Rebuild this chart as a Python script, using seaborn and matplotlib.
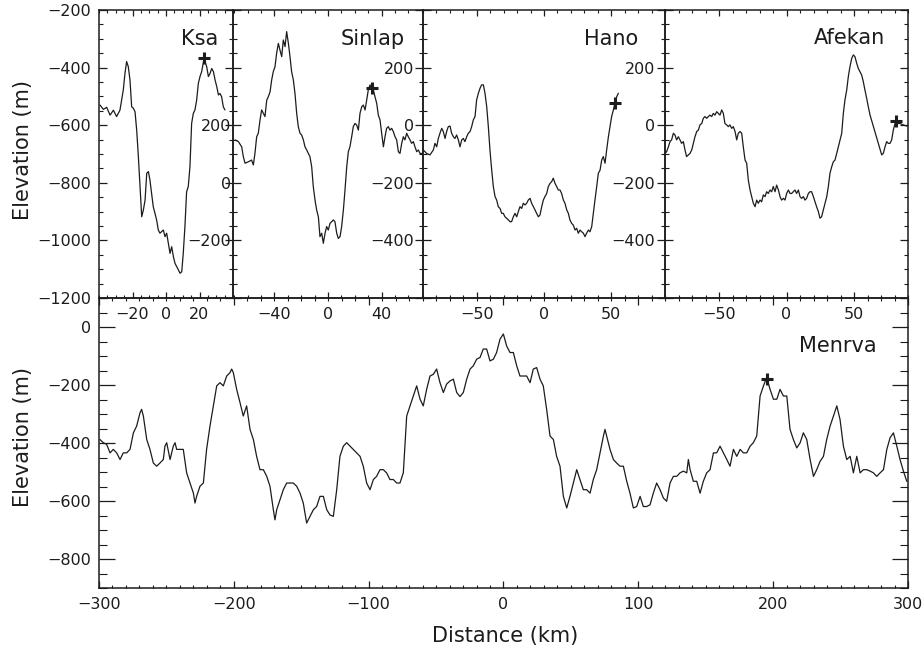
import matplotlib
matplotlib.use("Agg")
import matplotlib.pyplot as plt
from matplotlib.ticker import MultipleLocator
import pandas as pd
import seaborn as sns

# Topographic profiles across Titan craters: distance (km) vs elevation (m)

ksa_km = [-39.4, -37.4, -35.4, -33.4, -31.4, -29.5, -27.5, -25.5, -24.5, -23.5,
          -22.5, -21.5, -20.5, -19.5, -18.5, -17.5, -16.5, -15.5, -14.5, -13.5,
          -12.5, -11.5, -10.5, -9.6, -8.6, -7.6, -6.6, -5.6, -4.6, -3.6,
          -1.6, -0.6, 0.4, 1.4, 2.4, 3.4, 4.4, 5.4, 6.4, 8.4,
          9.4, 10.3, 11.3, 12.3, 13.3, 14.3, 15.3, 16.3, 17.3, 18.3,
          19.3, 20.3, 21.3, 22.7, 24.3, 25.3, 26.3, 27.3, 28.3, 29.3,
          30.3, 31.3, 32.2, 33.2, 34.2, 35.2]
ksa_m = [-530, -545, -538, -565, -548, -570, -548, -478, -420, -379,
         -397, -443, -536, -541, -553, -617, -709, -813, -918, -894,
         -860, -767, -761, -790, -837, -883, -906, -929, -964, -975,
         -964, -987, -975, -1010, -1045, -1022, -1056, -1080, -1091, -1114,
         -1109, -1045, -952, -831, -813, -744, -594, -559, -547, -513,
         -455, -431, -414, -368, -397, -431, -420, -403, -414, -443,
         -466, -495, -490, -501, -536, -547]

sinlap_km = [-69.5, -67.0, -64.5, -63.3, -62.0, -59.5, -57.1, -55.8, -54.6, -53.3,
             -52.1, -50.8, -49.6, -48.3, -47.1, -45.8, -44.6, -43.3, -42.1, -40.9,
             -39.6, -38.4, -37.1, -35.9, -34.6, -33.4, -32.1, -30.9, -29.6, -28.4,
             -27.2, -25.9, -24.7, -23.4, -22.2, -20.9, -19.7, -18.4, -17.2, -15.9,
             -14.7, -13.5, -12.2, -11.0, -9.7, -8.5, -7.2, -6.0, -4.7, -3.5,
             -2.2, -1.0, 0.2, 1.5, 4.0, 5.2, 6.5, 7.7, 9.0, 10.2,
             11.5, 12.7, 14.0, 15.2, 16.4, 17.7, 18.9, 20.2, 21.4, 22.7,
             23.9, 25.2, 26.4, 27.7, 28.9, 30.1, 31.4, 32.6, 33.9, 35.1,
             36.4, 37.6, 38.9, 40.1, 41.4, 42.6, 43.8, 45.1, 46.3, 47.6,
             48.8, 50.1, 51.3, 52.6, 53.8, 55.1, 56.3, 57.5, 58.8, 60.0,
             61.3, 62.5, 63.8, 65.0, 66.3, 67.5, 68.8, 70.0]
sinlap_m = [149, 143, 125, 91, 68, 73, 79, 62, 102, 160,
            172, 218, 253, 241, 230, 287, 299, 316, 357, 386,
            403, 450, 484, 461, 438, 496, 473, 525, 484, 438,
            386, 357, 311, 241, 195, 172, 166, 149, 125, 114,
            102, 91, 56, -13, -60, -94, -118, -187, -175, -210,
            -175, -152, -164, -141, -129, -135, -175, -193, -187, -152,
            -94, -25, 56, 108, 125, 160, 195, 206, 201, 183,
            241, 264, 270, 253, 287, 322, 340, 328, 322, 299,
            276, 235, 218, 172, 125, 160, 189, 195, 183, 189,
            178, 160, 149, 108, 102, 137, 160, 149, 172, 160,
            149, 137, 143, 125, 108, 114, 102, 102]

hano_km = [-89.8, -87.3, -84.8, -82.3, -81.1, -79.8, -78.6, -77.4, -76.1, -74.9,
           -73.6, -72.4, -71.2, -69.9, -68.7, -67.4, -66.2, -65.0, -63.7, -62.5,
           -61.2, -60.0, -58.8, -57.5, -56.3, -55.0, -53.8, -52.6, -51.3, -50.1,
           -48.8, -47.6, -46.4, -45.1, -43.9, -42.6, -41.4, -40.2, -38.9, -37.7,
           -36.4, -35.2, -34.0, -32.7, -31.5, -30.3, -29.0, -27.8, -26.5, -25.3,
           -24.1, -22.8, -21.6, -20.3, -19.1, -17.9, -16.6, -15.4, -14.1, -12.9,
           -11.7, -10.4, -9.2, -7.9, -6.7, -5.5, -4.2, -3.0, -1.7, -0.5,
           0.7, 2.0, 3.2, 4.5, 5.7, 6.9, 8.2, 9.4, 10.7, 11.9,
           13.1, 14.4, 15.6, 16.9, 18.1, 19.3, 20.6, 21.8, 23.1, 24.3,
           25.5, 26.8, 28.0, 29.3, 30.5, 31.7, 33.0, 34.2, 35.5, 36.7,
           37.9, 39.2, 40.4, 41.7, 42.9, 44.1, 45.4, 46.6, 47.9, 49.1,
           50.3, 51.6, 52.8, 54.1, 55.3]
hano_m = [-86, -98, -103, -86, -63, -75, -46, -28, -11, -22,
          -46, -22, -5, -3, -28, -40, -46, -34, -51, -75,
          -51, -46, -57, -40, -28, -22, -5, 18, 30, 88,
          111, 128, 140, 140, 111, 64, -5, -86, -156, -213,
          -248, -260, -283, -289, -306, -306, -318, -323, -329, -335,
          -335, -318, -306, -318, -300, -283, -289, -271, -277, -271,
          -260, -254, -271, -283, -294, -306, -318, -312, -283, -260,
          -248, -237, -213, -202, -196, -184, -202, -213, -225, -225,
          -237, -260, -271, -294, -306, -329, -341, -347, -364, -358,
          -375, -364, -370, -375, -387, -375, -364, -370, -352, -306,
          -260, -213, -167, -156, -121, -109, -132, -86, -40, -5,
          30, 53, 78, 99, 111]

afekan_km = [-90.0, -88.8, -87.5, -86.3, -85.1, -83.8, -82.6, -81.4, -80.1, -78.9,
             -77.7, -76.4, -75.2, -74.0, -72.7, -71.5, -70.2, -69.0, -67.8, -66.5,
             -65.3, -64.1, -62.8, -61.6, -60.4, -59.1, -57.9, -56.7, -55.4, -54.2,
             -53.0, -51.7, -50.5, -49.3, -48.0, -46.8, -45.6, -44.3, -43.1, -41.9,
             -40.6, -39.4, -38.1, -36.9, -35.7, -34.4, -33.2, -32.0, -30.7, -29.5,
             -28.3, -27.0, -25.8, -24.6, -23.3, -22.1, -20.9, -19.6, -18.4, -17.2,
             -15.9, -14.7, -13.5, -12.2, -11.0, -9.8, -8.5, -7.3, -6.0, -4.8,
             -3.6, -2.3, -1.1, 0.1, 1.4, 2.6, 3.8, 5.1, 6.3, 7.5,
             8.8, 10.0, 11.2, 12.5, 13.7, 14.9, 16.2, 17.4, 18.6, 19.9,
             21.1, 22.3, 23.6, 24.8, 26.0, 27.3, 28.5, 29.8, 31.0, 32.2,
             33.5, 34.7, 35.9, 37.2, 38.4, 39.6, 40.9, 42.1, 43.3, 44.6,
             45.8, 47.0, 48.3, 49.5, 50.7, 52.0, 53.2, 54.4, 55.7, 56.9,
             58.1, 59.4, 60.6, 61.9, 70.5, 71.7, 73.0, 74.2, 75.4, 76.7,
             77.9, 79.1, 80.4, 81.6, 82.8, 84.1, 86.5, 89.0]
afekan_m = [-98, -92, -75, -57, -51, -28, -34, -51, -40, -51,
            -63, -57, -86, -109, -103, -98, -86, -63, -40, -22,
            -17, 1, 6, 24, 30, 24, 30, 35, 30, 41,
            35, 47, 41, 35, 53, 41, 6, 1, -5, 1,
            -11, -5, -22, -51, -28, -22, -28, -75, -121, -132,
            -190, -225, -248, -271, -283, -260, -271, -260, -266, -242,
            -248, -231, -237, -225, -231, -213, -231, -208, -225, -248,
            -260, -254, -260, -237, -225, -237, -237, -231, -225, -237,
            -225, -248, -254, -248, -260, -254, -237, -231, -231, -248,
            -266, -283, -300, -323, -318, -294, -271, -248, -213, -167,
            -144, -127, -121, -98, -75, -51, -28, 41, 88, 122,
            169, 203, 232, 244, 238, 215, 197, 186, 174, 151,
            122, 93, 64, 35, -103, -98, -75, -57, -63, -63,
            -51, -17, 6, 18, 6, 6, 1, -3]

menrva_km = [-299.3, -296.8, -294.3, -291.8, -289.4, -286.9, -284.4, -282.0, -279.5, -277.0,
             -274.5, -272.1, -269.6, -268.4, -267.1, -264.6, -262.2, -259.7, -257.2, -254.8,
             -252.3, -251.1, -249.8, -247.3, -244.9, -243.6, -242.4, -239.9, -237.5, -235.0,
             -232.5, -230.0, -228.8, -227.6, -225.1, -222.6, -220.2, -217.7, -215.2, -212.7,
             -210.3, -207.8, -205.3, -202.8, -201.6, -200.4, -197.9, -195.4, -193.0, -190.5,
             -188.0, -185.5, -183.1, -180.6, -178.1, -175.6, -173.2, -170.7, -169.5, -168.2,
             -165.8, -163.3, -160.8, -158.3, -155.9, -153.4, -150.9, -148.5, -146.0, -143.5,
             -141.0, -138.6, -136.1, -133.6, -131.1, -128.7, -126.2, -123.7, -121.3, -118.8,
             -116.3, -113.8, -111.4, -108.9, -106.4, -104.0, -101.5, -99.0, -96.5, -94.1,
             -91.6, -89.1, -86.7, -84.2, -81.7, -79.2, -76.8, -74.3, -71.8, -69.3,
             -66.9, -64.4, -61.9, -59.5, -57.0, -54.5, -52.0, -49.6, -47.1, -44.6,
             -42.2, -39.7, -37.2, -34.7, -32.3, -29.8, -27.3, -24.8, -22.4, -19.9,
             -17.4, -15.0, -12.5, -10.0, -7.5, -5.1, -2.6, -0.1, 2.3, 4.8,
             7.3, 9.8, 12.2, 14.7, 17.2, 19.7, 22.1, 24.6, 27.1, 29.5,
             32.0, 34.5, 37.0, 39.4, 41.9, 44.4, 46.9, 49.3, 51.8, 54.3,
             56.7, 59.2, 61.7, 64.2, 66.6, 69.1, 71.6, 74.1, 75.3, 76.5,
             79.0, 81.5, 83.9, 86.4, 88.9, 91.4, 93.8, 96.3, 98.8, 101.3,
             103.7, 106.2, 108.7, 111.1, 113.6, 116.1, 118.6, 121.0, 123.5, 126.0,
             128.5, 130.9, 133.4, 135.9, 137.1, 138.4, 140.8, 143.3, 145.8, 148.2,
             150.7, 153.2, 155.7, 158.1, 160.6, 163.1, 165.6, 168.0, 170.5, 173.0,
             175.5, 177.9, 180.4, 182.9, 185.3, 187.8, 190.3, 192.8, 195.2, 197.7,
             200.2, 202.7, 205.1, 207.6, 210.1, 212.5, 215.0, 217.5, 220.0, 222.4,
             224.9, 227.4, 229.9, 232.3, 234.8, 237.3, 239.7, 242.2, 244.7, 247.2,
             249.6, 252.1, 254.6, 257.1, 259.5, 262.0, 264.5, 266.9, 269.4, 271.9,
             274.4, 276.8, 279.3, 281.8, 284.3, 286.7, 289.2, 291.7, 294.1, 296.6,
             299.1]
menrva_m = [-388, -399, -405, -434, -422, -434, -457, -434, -434, -422,
            -365, -342, -296, -284, -307, -388, -422, -469, -480, -469,
            -457, -411, -399, -457, -411, -399, -422, -422, -422, -503,
            -538, -573, -607, -584, -549, -538, -422, -342, -272, -203,
            -192, -203, -169, -157, -145, -157, -215, -261, -307, -272,
            -353, -388, -446, -492, -492, -515, -549, -630, -665, -630,
            -596, -561, -538, -538, -538, -549, -573, -607, -676, -653,
            -630, -619, -584, -584, -630, -648, -653, -561, -446, -411,
            -399, -411, -422, -434, -446, -480, -538, -561, -526, -515,
            -492, -492, -503, -526, -526, -538, -538, -503, -307, -272,
            -238, -203, -249, -272, -215, -169, -163, -145, -192, -226,
            -197, -186, -180, -226, -240, -226, -180, -145, -134, -111,
            -105, -76, -76, -117, -111, -88, -42, -24, -65, -88,
            -88, -134, -169, -169, -169, -192, -145, -140, -180, -203,
            -284, -376, -388, -446, -480, -584, -624, -584, -538, -492,
            -526, -561, -561, -573, -526, -492, -434, -376, -353, -376,
            -422, -457, -469, -480, -480, -532, -573, -624, -619, -584,
            -619, -619, -613, -573, -538, -561, -590, -601, -538, -515,
            -515, -503, -497, -503, -457, -492, -532, -532, -573, -532,
            -503, -492, -434, -434, -411, -434, -457, -480, -422, -446,
            -422, -434, -434, -411, -399, -376, -238, -203, -174, -215,
            -249, -249, -215, -238, -238, -353, -388, -417, -399, -365,
            -388, -457, -515, -492, -463, -446, -388, -342, -307, -272,
            -319, -411, -457, -446, -503, -446, -503, -492, -492, -497,
            -503, -515, -503, -492, -422, -382, -365, -411, -457, -497,
            -532]

# summit markers (+) on each profile
peak_km = {"Ksa": 22.7, "Sinlap": 32.6, "Hano": 52.8, "Afekan": 81.1, "Menrva": 195.7}
peak_m = {"Ksa": -367, "Sinlap": 328, "Hano": 78, "Afekan": 16, "Menrva": -180}

sns.set_style("ticks")
plt.rcParams["font.family"] = ["DejaVu Sans"]
plt.rcParams["axes.linewidth"] = 1.1
INK = "#1c1c1c"
W, H = 924, 654

fig = plt.figure(figsize=(W / 100, H / 100), dpi=100)
fig.patch.set_facecolor("white")


def add_panel(x0, x1, y0, y1):
    ax = fig.add_axes([x0 / W, 1 - y1 / H, (x1 - x0) / W, (y1 - y0) / H])
    ax.set_facecolor("none")
    for sp in ax.spines.values():
        sp.set_color(INK)
    return ax


def draw_profile(ax, name, km, elev):
    df = pd.DataFrame({"km": km, "elev": elev})
    sns.lineplot(data=df, x="km", y="elev", ax=ax, color=INK, lw=0.9,
                 estimator=None, sort=False)
    ax.plot(peak_km[name], peak_m[name], marker="+", ms=9, mew=2.2, color=INK)
    ax.set_xlabel("")
    ax.set_ylabel("")


def fmt(v):
    return str(int(v)).replace("-", "\u2212")


def style_panel(ax, xlim, ylim, xlabels, xminor, ymajor, ylabels, yminor,
                xlen, ylen, ypad):
    ax.set_xlim(*xlim)
    ax.set_ylim(*ylim)
    ax.set_xticks(xlabels, labels=[fmt(v) for v in xlabels])
    ax.xaxis.set_minor_locator(MultipleLocator(xminor))
    ax.set_yticks(ymajor, labels=[fmt(v) if v in ylabels else "" for v in ymajor])
    ax.yaxis.set_minor_locator(MultipleLocator(yminor))
    ax.tick_params(which="both", direction="in", top=True, right=True,
                   colors=INK, labelsize=11.5)
    ax.tick_params(axis="x", which="major", length=xlen[0], width=0.9, pad=6.5)
    ax.tick_params(axis="x", which="minor", length=xlen[1], width=0.8)
    ax.tick_params(axis="y", which="major", length=ylen[0], width=0.9, pad=ypad)
    ax.tick_params(axis="y", which="minor", length=ylen[1], width=0.8)


ax_m = add_panel(99, 908, 298, 588)
ax_k = add_panel(99, 233, 10, 298)
ax_s = add_panel(233, 423, 10, 298)
ax_h = add_panel(423, 665, 10, 298)
ax_a = add_panel(665, 908, 10, 298)

draw_profile(ax_k, "Ksa", ksa_km, ksa_m)
draw_profile(ax_s, "Sinlap", sinlap_km, sinlap_m)
draw_profile(ax_h, "Hano", hano_km, hano_m)
draw_profile(ax_a, "Afekan", afekan_km, afekan_m)
draw_profile(ax_m, "Menrva", menrva_km, menrva_m)

top_x = (4.3, 2.2)
top_y = (5.8, 2.9)
style_panel(ax_k, (-40, 40), (-1200, -200), [-20, 0, 20], 5,
            list(range(-1200, -199, 200)), list(range(-1200, -199, 200)), 50,
            top_x, top_y, 5.8)
style_panel(ax_s, (-71, 71), (-400, 600), [-40, 0, 40], 10,
            list(range(-400, 601, 200)), [-200, 0, 200], 50,
            top_x, top_y, 1.5)
style_panel(ax_h, (-90, 90), (-600, 400), [-50, 0, 50], 10,
            list(range(-600, 401, 200)), [-400, -200, 0, 200], 50,
            top_x, top_y, 6.5)
style_panel(ax_a, (-90, 90), (-600, 400), [-50, 0, 50], 10,
            list(range(-600, 401, 200)), [-400, -200, 0, 200], 50,
            top_x, top_y, 7.0)
style_panel(ax_m, (-300, 300), (-900, 100), list(range(-300, 301, 100)), 10,
            list(range(-800, 1, 200)), list(range(-800, 1, 200)), 50,
            (4.7, 2.5), (11.5, 5.8), 5.8)

# crater names
names = [("Ksa", 218, 45), ("Sinlap", 405, 45), ("Hano", 638, 45),
         ("Afekan", 885, 44), ("Menrva", 877, 352)]
for label, px, py in names:
    fig.text(px / W, 1 - py / H, label, ha="right", va="baseline",
             fontsize=15, color=INK)

fig.text(23 / W, 1 - 150 / H, "Elevation (m)", rotation=90, ha="center",
         va="center", fontsize=15, color=INK)
fig.text(23 / W, 1 - 437 / H, "Elevation (m)", rotation=90, ha="center",
         va="center", fontsize=15, color=INK)
fig.text(505 / W, 1 - 636 / H, "Distance (km)", ha="center", va="center",
         fontsize=15, color=INK)

fig.savefig("out.png", dpi=100)
